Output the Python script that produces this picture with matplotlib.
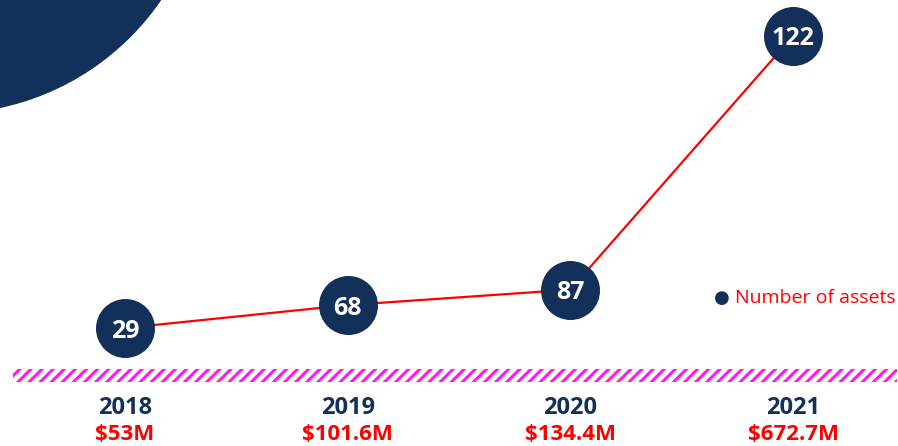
import matplotlib
matplotlib.use("Agg")
import matplotlib.pyplot as plt
from matplotlib.patches import Circle, Rectangle
import numpy as np

years = ["2018", "2019", "2020", "2021"]
assets = [29, 68, 87, 122]
funding = [53, 101.6, 134.4, 672.7]
funding_labels = ["$53M", "$101.6M", "$134.4M", "$672.7M"]
legend_label = "Number of assets"

NAVY = "#12305a"
RED = "#ff0000"
MAGENTA = "#ff1af0"
FONT = ["Open Sans", "DejaVu Sans"]

W, H = 898, 446
fig = plt.figure(figsize=(W / 100, H / 100), dpi=100)
ax = fig.add_axes([0, 0, 1, 1])
ax.set_axis_off()

# pixel mapping for layout
x0_px, dx_px = 125, 222.67
ax.set_xlim(-x0_px / dx_px, (W - x0_px) / dx_px)
slope = 0.4712  # px per $M
ymax = 53 + 328 / slope
ymin = 53 - (H - 328) / slope
ax.set_ylim(ymin, ymax)

x = np.arange(len(years))

# decorative circle top-left (figure pixel coords)
fig.patches.append(Circle((-54, H + 147), 260, transform=None, color=NAVY, zorder=0))

ax.plot(x, funding, color=RED, lw=1.6, zorder=2)
ax.scatter(x, funding, s=(2 * 29.5 * 0.72) ** 2, color=NAVY, zorder=3, linewidths=0)
for xi, f, a in zip(x, funding, assets):
    ax.text(xi, f, str(a), color="white", fontsize=18, fontweight="bold",
            ha="center", va="center_baseline", family=FONT, zorder=4)

# hatch band
plt.rcParams["hatch.linewidth"] = 2.2
plt.rcParams["hatch.color"] = MAGENTA
band = Rectangle((13, H - 382), 884, 13, transform=None, facecolor="none",
                 edgecolor=MAGENTA, hatch="///", linewidth=0)
fig.patches.append(band)

for xi, yr, fl in zip(x, years, funding_labels):
    ax.text(xi, 1 - 408 / H, yr, transform=ax.get_xaxis_transform(), color=NAVY,
            fontsize=17, fontweight="bold", ha="center", va="center", family=FONT)
    ax.text(xi, 1 - 435 / H, fl, transform=ax.get_xaxis_transform(), color=RED,
            fontsize=16, fontweight="bold", ha="center", va="center", family=FONT)

# legend
fig.text(722 / W, 1 - 298 / H, "\u25cf", color=NAVY, fontsize=13, ha="center",
         va="center", family=["DejaVu Sans"])
fig.text(735 / W, 1 - 298 / H, legend_label, color=RED, fontsize=14,
         ha="left", va="center", family=FONT)

fig.savefig("out.png", dpi=100)
